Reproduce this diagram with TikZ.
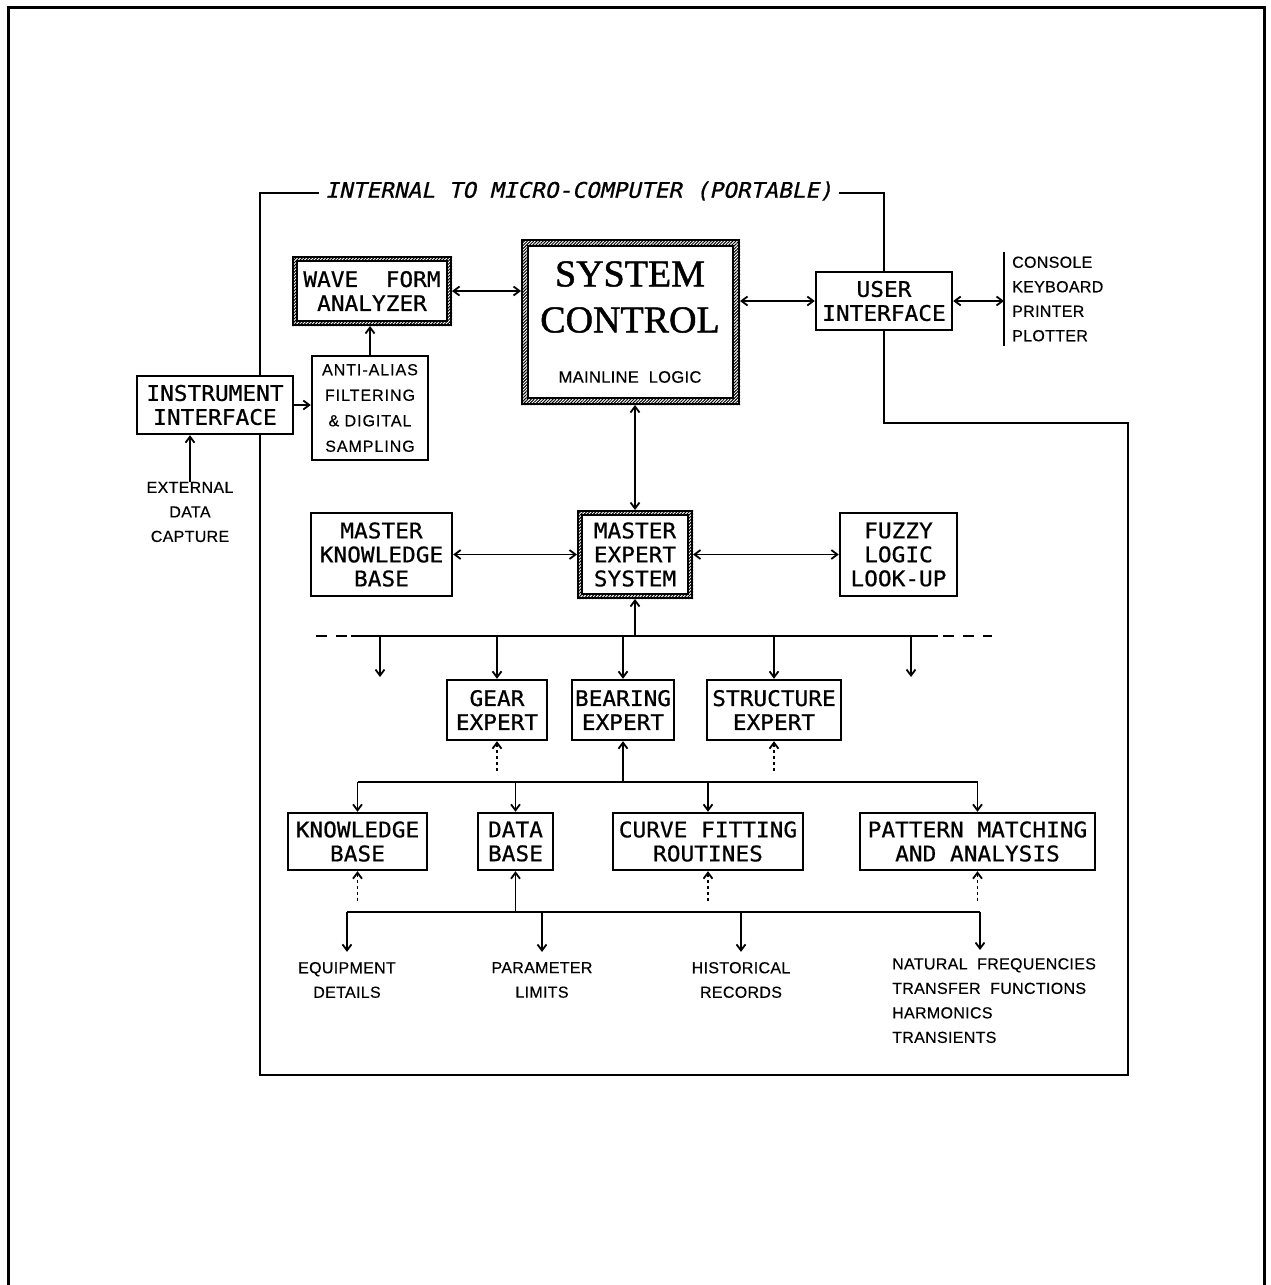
\documentclass[tikz,border=0pt]{standalone}
\usepackage{fontspec}
\usetikzlibrary{arrows.meta,patterns.meta,backgrounds,calc}
\newfontfamily\boxfont{DejaVu Sans Mono}[FakeStretch=1.06,FakeBold=0.7]
\newfontfamily\slantfont{DejaVu Sans Mono}[FakeSlant=0.22,FakeStretch=1.06,FakeBold=0.7]
\newfontfamily\labfont{Liberation Sans}[LetterSpace=2,FakeBold=0.4]
\newfontfamily\widelabfont{Liberation Sans}[LetterSpace=6,FakeBold=0.4]
\newfontfamily\serifhead{Liberation Serif}[FakeBold=1.2]

% shaded double frame of a highlighted block: hatched ring plus inner rule
\newcommand\hatchring[2]{%
  \fill[pattern={Lines[angle=45,distance=2.2pt,line width=1pt]}, even odd rule]
    (#1.north west) rectangle (#1.south east)
    ([shift={(#2,-#2)}]#1.north west) rectangle ([shift={(-#2,#2)}]#1.south east);
  \draw[line width=1.6pt]
    ([shift={(#2,-#2)}]#1.north west) rectangle ([shift={(-#2,#2)}]#1.south east);
}

\tikzset{
  >={Straight Barb[length=6pt,width=9pt]},
  box/.style={draw, line width=2.4pt, fill=white, inner sep=0pt, align=center,
    font=\boxfont\fontsize{21.5}{24}\selectfont},
  hatchbox/.style={box, line width=2pt},
  conn/.style={line width=1.8pt},
  dotconn/.style={conn, dash pattern=on 3pt off 3pt},
  busdash/.style={conn, dash pattern=on 11pt off 9pt},
  lab/.style={inner sep=0pt, align=center, font=\labfont\fontsize{16}{24.5}\selectfont},
  framerule/.style={line width=2.6pt},
}

\begin{document}
\begin{tikzpicture}[x=1pt,y=-1pt]
\useasboundingbox (0,0) rectangle (1270,1285);

% page border
\draw[line width=3pt] (8,1285) -- (8,7) -- (1264,7) -- (1264,1285);

% ---- blocks ----
\node[hatchbox, minimum width=158pt, minimum height=68pt] (wfa) at (372,291) {WAVE\ \ FORM\\ANALYZER};
\node[hatchbox, minimum width=217pt, minimum height=164pt] (sys) at (630.5,322) {};
\node[inner sep=0pt, align=center, font=\serifhead\fontsize{38}{46}\selectfont] (systitle) at (630,297) {SYSTEM\\CONTROL};
\node[lab, font=\labfont\fontsize{16.5}{20}\selectfont] (mainline) at (630,377) {MAINLINE\ \ LOGIC};
\node[box, minimum width=136pt, minimum height=58pt] (ui) at (884,301) {USER\\INTERFACE};
\node[lab, anchor=west, align=left, inner xsep=8pt, inner ysep=4pt] (dev) at (1004,299) {CONSOLE\\KEYBOARD\\PRINTER\\PLOTTER};
\draw[conn] (dev.north west) -- (dev.south west);

\node[box, minimum width=156pt, minimum height=58pt] (ii) at (215,405) {INSTRUMENT\\INTERFACE};
\node[box, minimum width=116pt, minimum height=104pt, font=\widelabfont\fontsize{16}{25.5}\selectfont] (aa) at (370,408) {ANTI-ALIAS\\FILTERING\\\&\ DIGITAL\\SAMPLING};
\node[lab] (ext) at (190,512) {EXTERNAL\\DATA\\CAPTURE};

\node[box, minimum width=141pt, minimum height=83pt] (mkb) at (381.5,554.5) {MASTER\\KNOWLEDGE\\BASE};
\node[hatchbox, minimum width=114pt, minimum height=87pt] (mes) at (635,554.5) {MASTER\\EXPERT\\SYSTEM};
\node[box, minimum width=117pt, minimum height=83pt] (fuz) at (898.5,554.5) {FUZZY\\LOGIC\\LOOK-UP};

\node[box, minimum width=100pt, minimum height=60pt] (gear) at (497,710) {GEAR\\EXPERT};
\node[box, minimum width=102pt, minimum height=60pt] (bear) at (623,710) {BEARING\\EXPERT};
\node[box, minimum width=134pt, minimum height=60pt] (struct) at (774,710) {STRUCTURE\\EXPERT};

\node[box, minimum width=139pt, minimum height=57pt] (kb) at (357.5,841.5) {KNOWLEDGE\\BASE};
\node[box, minimum width=75pt, minimum height=57pt] (db) at (515.5,841.5) {DATA\\BASE};
\node[box, minimum width=190pt, minimum height=57pt] (cf) at (708,841.5) {CURVE FITTING\\ROUTINES};
\node[box, minimum width=235pt, minimum height=57pt] (pm) at (977.5,841.5) {PATTERN MATCHING\\AND ANALYSIS};

\node[lab] (eq) at (347,980) {EQUIPMENT\\DETAILS};
\node[lab] (par) at (542,980) {PARAMETER\\LIMITS};
\node[lab] (hist) at (741,980) {HISTORICAL\\RECORDS};
\node[lab, anchor=north west, align=left] (nat) at (892,958) {NATURAL\ \ FREQUENCIES\\TRANSFER\ \ FUNCTIONS\\HARMONICS\\TRANSIENTS};

\hatchring{wfa}{5pt}
\hatchring{sys}{7pt}
\hatchring{mes}{5pt}

% ---- enclosing frame of the micro-computer ----
\node[inner xsep=6pt, inner ysep=0pt, font=\slantfont\fontsize{21.5}{24}\selectfont] (title) at (579,191) {INTERNAL TO MICRO-COMPUTER (PORTABLE)};
\coordinate (ftl) at (260,193);
\coordinate (fbl) at (260,1075);
\coordinate (fbr) at (1128,1075);
\coordinate (fcr) at (1128,423);
\begin{scope}[on background layer]
  \draw[framerule] (title.west |- ftl) -- (ftl) -- (fbl) -- (fbr) -- (fcr) -- (ui.south |- fcr) -- (ui.south);
  \draw[framerule] (title.east |- ftl) -- (ui.north |- ftl) -- (ui.north);
\end{scope}

% ---- upper connectors ----
\draw[conn,<->] (wfa.east) -- (wfa.east -| sys.west);
\draw[conn,<->] (ui.west -| sys.east) -- (ui.west);
\draw[conn,<->] (ui.east) -- (ui.east -| dev.west);
\draw[conn,->] (ii.east) -- (ii.east -| aa.west);
\draw[conn,->] (aa.north) -- (aa.north |- wfa.south);
\draw[conn,->] (ext.north) -- (ext.north |- ii.south);
\draw[conn,<->] (mes.north |- sys.south) -- (mes.north);
\draw[conn,<->] (mkb.east) -- (mkb.east -| mes.west);
\draw[conn,<->] (mes.east) -- (mes.east -| fuz.west);

% ---- expert bus ----
\coordinate (bus1) at (0,636);
\coordinate (b1w) at (351,636);
\coordinate (b1e) at (938,636);
\coordinate (b1wd) at (316,636);
\coordinate (b1es) at (943,636);
\coordinate (b1ed) at (992,636);
\coordinate (d1) at (380,677);
\coordinate (d2) at (911,677);
\draw[conn] (b1w) -- (b1e);
\draw[busdash] (b1wd) -- (b1w);
\draw[busdash] (b1es) -- (b1ed);
\draw[conn,->] (mes.south |- bus1) -- (mes.south);
\draw[conn,->] (d1 |- bus1) -- (d1);
\draw[conn,->] (d2 |- bus1) -- (d2);
\foreach \n in {gear,bear,struct} \draw[conn,->] (\n.north |- bus1) -- (\n.north);
\draw[dotconn,->] ([yshift=-30pt]gear.south) -- (gear.south);
\draw[dotconn,->] ([yshift=-30pt]struct.south) -- (struct.south);

% ---- tool bus ----
\coordinate (bus2) at (0,782);
\draw[conn] (kb.north |- bus2) -- (pm.north |- bus2);
\draw[conn,->] (bear.south |- bus2) -- (bear.south);
\foreach \n in {kb,db,cf,pm} \draw[conn,->] (\n.north |- bus2) -- (\n.north);
\foreach \n in {kb,cf,pm} \draw[dotconn,->] ([yshift=-30pt]\n.south) -- (\n.south);

% ---- data bus ----
\coordinate (bus3) at (0,912);
\coordinate (d3) at (980,950);
\draw[conn] (eq.north |- bus3) -- (d3 |- bus3);
\draw[conn,->] (db.south |- bus3) -- (db.south);
\foreach \n in {eq,par,hist} \draw[conn,->] (\n.north |- bus3) -- ([yshift=10pt]\n.north);
\draw[conn,->] (d3 |- bus3) -- (d3);
\end{tikzpicture}
\end{document}
